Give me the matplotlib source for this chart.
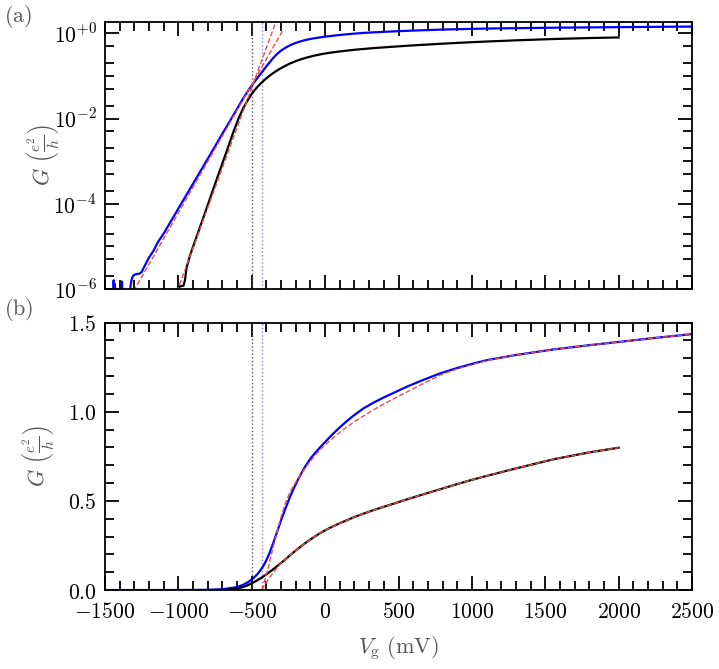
import numpy as np
import matplotlib.pyplot as plt
from matplotlib.ticker import FixedLocator, MultipleLocator, FuncFormatter, NullFormatter

plt.rcParams['mathtext.fontset'] = 'cm'
plt.rcParams['font.family'] = 'serif'
plt.rcParams['font.serif'] = ['DejaVu Serif']

# blue device (Vg in mV, G in e^2/h)
v_blue = [-1500, -1447, -1441, -1436, -1432, -1427, -1390, -1384, -1379, -1340,
          -1330, -1320, -1310, -1295, -1265, -1250, -1235, -1200, -1170, -1140,
          -1100, -1000, -900, -800, -700, -600, -560, -530, -512, -490,
          -465, -444, -421, -400, -380, -353, -330, -300, -270, -239,
          -210, -180, -150, -126, -100, -70, -40, -12, 30, 60,
          101, 150, 200, 260, 328, 400, 450, 556, 650, 783,
          900, 1000, 1101, 1300, 1555, 1800, 2009, 2250, 2500]
g_blue = [3e-7, 3e-7, 1.6e-6, 7e-7, 1.3e-6, 3e-7, 3e-7, 1.5e-6, 3e-7, 3e-7,
          9e-7, 1.6e-6, 2.0e-6, 2.2e-6, 2.3e-6, 2.5e-6, 3.2e-6, 5.5e-6, 7.8e-6, 1.25e-5,
          2.0e-5, 7.7e-5, 2.95e-4, 1.13e-3, 4.4e-3, 0.0168, 0.029, 0.042, 0.052, 0.066,
          0.086, 0.107, 0.135, 0.168, 0.205, 0.265, 0.32, 0.392, 0.458, 0.523,
          0.577, 0.627, 0.672, 0.705, 0.737, 0.767, 0.795, 0.82, 0.856, 0.881,
          0.913, 0.949, 0.982, 1.018, 1.05, 1.08, 1.099, 1.14, 1.172, 1.215,
          1.245, 1.268, 1.289, 1.318, 1.349, 1.373, 1.392, 1.414, 1.435]

# black device
v_black = [-1005, -990, -965, -955, -944, -920, -899, -850, -800, -750,
           -700, -650, -620, -590, -560, -530, -500, -470, -440, -410,
           -380, -353, -320, -300, -270, -239, -200, -160, -126, -80,
           -40, 0, 50, 101, 200, 328, 450, 556, 650, 783,
           900, 1000, 1101, 1300, 1555, 1800, 2000]
g_black = [9.5e-7, 1.15e-6, 1.2e-6, 1.6e-6, 3.2e-6, 6.2e-6, 1.0e-5, 3.0e-5, 9.3e-5, 2.9e-4,
           8.9e-4, 2.75e-3, 5.4e-3, 0.010, 0.017, 0.026, 0.038, 0.051, 0.066, 0.082,
           0.10, 0.117, 0.139, 0.152, 0.173, 0.195, 0.222, 0.248, 0.269, 0.295,
           0.316, 0.335, 0.356, 0.375, 0.41, 0.448, 0.48, 0.508, 0.532, 0.565,
           0.594, 0.618, 0.64, 0.682, 0.733, 0.772, 0.798]

# exponential (subthreshold) fits, panel (a)
v_fit_exp_blue = [-1330, -287]
g_fit_exp_blue = [6.3e-7, 1.19]
v_fit_exp_black = [-1010, -300]
g_fit_exp_black = [8.5e-7, 4.0]

# above-threshold fits, panel (b)
v_fit_blue = [-432, -410, -380, -355, -330, -300, -270, -239, -200, -160,
              -126, -70, -12, 50, 101, 200, 328, 450, 556, 650,
              737, 783, 900, 1101, 1300, 1555, 1800, 2009, 2250, 2500]
g_fit_blue = [0.0, 0.06, 0.15, 0.24, 0.32, 0.41, 0.49, 0.55, 0.605, 0.655,
              0.695, 0.755, 0.805, 0.85, 0.885, 0.945, 1.01, 1.065, 1.11, 1.15,
              1.185, 1.205, 1.24, 1.287, 1.318, 1.349, 1.373, 1.392, 1.414, 1.435]
v_fit_black = [-432, -400, -370, -340, -300, -270, -239, -200, -160, -126,
               -80, -40, 0, 50, 101, 200, 328, 450, 556, 650,
               783, 900, 1000, 1101, 1300, 1555, 1800, 2000]
g_fit_black = [0.0, 0.045, 0.08, 0.112, 0.152, 0.173, 0.195, 0.222, 0.248, 0.269,
               0.295, 0.316, 0.335, 0.356, 0.375, 0.41, 0.448, 0.48, 0.508, 0.532,
               0.565, 0.594, 0.618, 0.64, 0.682, 0.733, 0.772, 0.798]

# threshold voltages
vth_black = -497
vth_blue = -432

red = '#e8504a'
gray = '#555555'

fig = plt.figure(figsize=(7.19, 6.69), dpi=100)
ax1 = fig.add_axes([0.146, 0.568, 0.8165, 0.3996])
ax2 = fig.add_axes([0.146, 0.118, 0.8165, 0.3999])

for ax in (ax1, ax2):
    ax.axvline(vth_black, color=gray, ls=':', lw=1)
    ax.axvline(vth_blue, color='#7f7fff', ls=':', lw=1)

ax1.plot(v_blue, g_blue, color='blue', lw=1.6)
ax1.plot(v_black, g_black, color='black', lw=1.6)
ax1.plot(v_fit_exp_blue, g_fit_exp_blue, color=red, ls='--', lw=1)
ax1.plot(v_fit_exp_black, g_fit_exp_black, color=red, ls='--', lw=1)
ax1.set_yscale('log')
ax1.set_ylim(1e-6, 1.87)

ax2.plot(v_blue, g_blue, color='blue', lw=1.6)
ax2.plot(v_black, g_black, color='black', lw=1.6)
ax2.plot(v_fit_blue, g_fit_blue, color=red, ls='--', lw=1)
ax2.plot(v_fit_black, g_fit_black, color=red, ls='--', lw=1)
ax2.set_ylim(0, 1.5)

for ax in (ax1, ax2):
    ax.set_xlim(-1500, 2500)
    ax.xaxis.set_major_locator(MultipleLocator(500))
    ax.xaxis.set_minor_locator(MultipleLocator(100))
    ax.tick_params(which='both', direction='in', top=True, right=True, width=1.3, labelsize=15.5, pad=6)
    ax.tick_params(which='major', length=10)
    ax.tick_params(which='minor', length=6.5)
    for s in ax.spines.values():
        s.set_linewidth(1.3)
ax2.tick_params(axis='x', which='both', pad=8)

ax1.yaxis.set_major_locator(FixedLocator([1e-6, 1e-4, 1e-2, 1e0]))
minor = []
for e in range(-6, 1):
    for m in (1, 2, 5):
        val = m * 10.0 ** e
        if val < 1.87 and not (m == 1 and e % 2 == 0):
            minor.append(val)
ax1.yaxis.set_minor_locator(FixedLocator(minor))
ax1.yaxis.set_minor_formatter(NullFormatter())
ax1.yaxis.set_major_formatter(FuncFormatter(
    lambda v, p: r'$10^{+0}$' if v == 1 else r'$10^{%d}$' % round(np.log10(v))))
ax1.xaxis.set_major_formatter(NullFormatter())

ax2.yaxis.set_major_locator(MultipleLocator(0.5))
ax2.yaxis.set_minor_locator(MultipleLocator(0.1))
ax2.yaxis.set_major_formatter(FuncFormatter(lambda v, p: r'$%.1f$' % v))
ax2.xaxis.set_major_formatter(FuncFormatter(lambda v, p: r'$%d$' % v))

ylab = r'$G\ \left(\frac{e^2}{h}\right)$'
ax1.set_ylabel(ylab, fontsize=16, color=gray)
ax2.set_ylabel(ylab, fontsize=16, color=gray)
ax1.yaxis.set_label_coords(-0.072, 0.5)
ax2.yaxis.set_label_coords(-0.080, 0.5)
ax2.set_xlabel(r'$V_{\rm g}\ (\rm mV)$', fontsize=16, color=gray, labelpad=8)

fig.text(0.005, 0.975, r'$\rm (a)$', fontsize=16, color=gray, va='center')
fig.text(0.005, 0.537, r'$\rm (b)$', fontsize=16, color=gray, va='center')

fig.savefig('out.png', dpi=100)
